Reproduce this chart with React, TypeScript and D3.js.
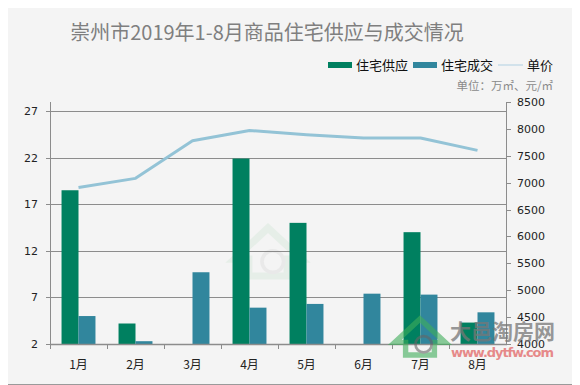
import React, { useEffect, useRef } from 'react';
import * as d3 from 'd3';

// 数据
const months = ['1月', '2月', '3月', '4月', '5月', '6月', '7月', '8月'];
const supply: (number | null)[] = [18.5, 4.2, null, 21.9, 15.0, 1.9, 14.0, 4.3];
const deal: (number | null)[] = [5.0, 2.3, 9.7, 5.9, 6.3, 7.4, 7.3, 5.4];
const price = [6910, 7080, 7780, 7970, 7890, 7830, 7830, 7600];
const leftTicks = [2, 7, 12, 17, 22, 27];
const rightTicks = [4000, 4500, 5000, 5500, 6000, 6500, 7000, 7500, 8000, 8500];

const CJK = '"Noto Sans CJK SC", "Microsoft YaHei", sans-serif';
const NUM = '"DejaVu Sans", Verdana, sans-serif';

const App = () => {
  const ref = useRef<SVGSVGElement | null>(null);

  useEffect(() => {
    const W = 580;
    const H = 385;
    const svg = d3.select(ref.current);
    svg.selectAll('*').remove();

    const left = 50;
    const right = 506;
    const top = 102;
    const bottom = 344;

    // fondo y borde
    svg.append('rect').attr('x', 0.5).attr('y', 0.5).attr('width', W - 1).attr('height', H - 1)
      .attr('fill', '#f4f4f4').attr('stroke', '#9a9a9a');

    // título
    svg.append('text').attr('x', 267).attr('y', 40).attr('text-anchor', 'middle')
      .style('font-family', CJK).style('font-size', '20px').attr('fill', '#7f7f7f')
      .text('崇州市2019年1-8月商品住宅供应与成交情况');

    const x0 = d3.scaleBand<string>().domain(months).range([left, right]);
    const x1 = d3.scaleBand<string>().domain(['s', 'd']).range([0, x0.bandwidth()]).paddingOuter(0.68);
    const yL = d3.scaleLinear().domain([2, 27.97]).range([bottom, top]);
    const yR = d3.scaleLinear().domain([4000, 8500]).range([bottom, top]);

    // rejilla
    svg.append('g').selectAll('line').data(leftTicks.filter(d => d > 2)).enter().append('line')
      .attr('x1', left).attr('x2', right).attr('y1', d => Math.round(yL(d)) + 0.5).attr('y2', d => Math.round(yL(d)) + 0.5)
      .attr('stroke', '#8c8c8c').attr('stroke-width', 1);

    // marca de agua central (tenue)
    const house = (g: any, s: number) => {
      g.append('path').attr('d', `M0,${-20 * s} L${-28 * s},${6 * s} L${-16 * s},${6 * s} L${-16 * s},${20 * s} L${16 * s},${20 * s} L${16 * s},${6 * s} L${28 * s},${6 * s} Z`)
        .attr('fill', 'none').attr('stroke', '#3fae5a').attr('stroke-width', 6 * s);
      g.append('circle').attr('cx', 4 * s).attr('cy', 8 * s).attr('r', 9 * s)
        .attr('fill', 'none').attr('stroke', '#666').attr('stroke-width', 3 * s);
    };
    const wm1 = svg.append('g').attr('transform', 'translate(268,252)').attr('opacity', 0.07);
    house(wm1, 1.2);

    // barras
    svg.append('defs').append('clipPath').attr('id', 'plotclip').append('rect')
      .attr('x', left).attr('y', top - 5).attr('width', right - left).attr('height', bottom - top + 7);
    const bars = svg.append('g').attr('clip-path', 'url(#plotclip)');
    const barRect = (vals: (number | null)[], key: string, color: string) => {
      const rows = vals.map((v, i) => ({ v, m: months[i] })).filter(d => d.v !== null) as { v: number; m: string }[];
      bars.selectAll('.b' + key).data(rows).enter().append('rect')
        .attr('class', 'b' + key)
        .attr('x', d => (x0(d.m) as number) + (x1(key) as number))
        .attr('width', x1.bandwidth())
        .attr('y', d => Math.min(yL(d.v), yL(2)))
        .attr('height', d => Math.max(1, Math.abs(yL(2) - yL(d.v))))
        .attr('fill', color);
    };
    barRect(supply, 's', '#008060');
    barRect(deal, 'd', '#31869d');

    // ejes
    const axisColor = '#8c8c8c';
    svg.append('line').attr('x1', left + 0.5).attr('x2', left + 0.5).attr('y1', top).attr('y2', bottom)
      .attr('stroke', axisColor);
    svg.append('line').attr('x1', right + 0.5).attr('x2', right + 0.5).attr('y1', top).attr('y2', bottom)
      .attr('stroke', axisColor);
    svg.append('line').attr('x1', left).attr('x2', right + 1).attr('y1', bottom + 0.5).attr('y2', bottom + 0.5)
      .attr('stroke', axisColor).attr('stroke-width', 1.5);

    // ticks izquierda
    const gl = svg.append('g');
    leftTicks.forEach(t => {
      const y = Math.round(yL(t)) + 0.5;
      gl.append('line').attr('x1', left - 4).attr('x2', left).attr('y1', y).attr('y2', y).attr('stroke', axisColor);
      gl.append('text').attr('x', 38).attr('y', y).attr('dy', '0.35em').attr('text-anchor', 'end')
        .style('font-family', NUM).style('font-size', '11px').attr('fill', '#222').text(t);
    });

    // ticks derecha
    const gr = svg.append('g');
    rightTicks.forEach(t => {
      const y = Math.round(yR(t)) + 0.5;
      gr.append('line').attr('x1', right).attr('x2', right + 5).attr('y1', y).attr('y2', y).attr('stroke', axisColor);
      gr.append('text').attr('x', 517).attr('y', y).attr('dy', '0.35em').attr('text-anchor', 'start')
        .style('font-family', NUM).style('font-size', '11px').attr('fill', '#222').text(t);
    });

    // eje x
    const gx = svg.append('g');
    months.forEach(m => {
      const xs = Math.round(x0(m) as number) + 0.5;
      gx.append('line').attr('x1', xs).attr('x2', xs).attr('y1', bottom).attr('y2', bottom + 5).attr('stroke', axisColor);
      gx.append('text').attr('x', (x0(m) as number) + x0.bandwidth() / 2).attr('y', 369).attr('text-anchor', 'middle')
        .style('font-family', CJK).style('font-size', '12px').attr('fill', '#222').text(m);
    });

    // línea de precio
    const line = d3.line<number>()
      .x((d, i) => (x0(months[i]) as number) + x0.bandwidth() / 2)
      .y(d => yR(d));
    svg.append('path').datum(price).attr('d', line).attr('fill', 'none')
      .attr('stroke', '#93c3d6').attr('stroke-width', 3).attr('stroke-linejoin', 'round');

    // leyenda
    const lg = svg.append('g');
    const legendData = [
      { label: '住宅供应', color: '#008060', x: 328, type: 'bar' },
      { label: '住宅成交', color: '#31869d', x: 413, type: 'bar' },
      { label: '单价', color: '#c7dde8', x: 498, type: 'line' },
    ];
    legendData.forEach(d => {
      if (d.type === 'bar') {
        lg.append('rect').attr('x', d.x).attr('y', 62).attr('width', 24).attr('height', 6).attr('fill', d.color);
      } else {
        lg.append('line').attr('x1', d.x).attr('x2', d.x + 25).attr('y1', 65).attr('y2', 65)
          .attr('stroke', d.color).attr('stroke-width', 1.5);
      }
      lg.append('text').attr('x', d.x + (d.type === 'bar' ? 28 : 29)).attr('y', 65).attr('dy', '0.36em')
        .style('font-family', CJK).style('font-size', '13px').attr('fill', '#111').text(d.label);
    });

    svg.append('text').attr('x', 553).attr('y', 86).attr('dy', '0.35em').attr('text-anchor', 'end')
      .style('font-family', CJK).style('font-size', '11.5px').attr('fill', '#8a8a8a')
      .text('单位：万㎡、元/㎡');

    // marca de agua (esquina inferior derecha, superpuesta como en el original)
    const wm2 = svg.append('g').attr('transform', 'translate(420,337)').attr('opacity', 0.6);
    house(wm2, 0.9);
    svg.append('text').attr('x', 450).attr('y', 339)
      .style('font-family', CJK).style('font-size', '21px').style('font-weight', 'bold')
      .attr('fill', '#777').attr('opacity', 0.75).text('大邑淘房网');
    svg.append('text').attr('x', 451).attr('y', 357)
      .style('font-family', NUM).style('font-size', '13px').style('font-weight', 'bold')
      .attr('fill', '#e05050').attr('opacity', 0.65).attr('textLength', 103).text('www.dytfw.com');
  }, []);

  return (
    <div style={{ width: 580, height: 385 }}>
      <svg ref={ref} width={580} height={385} style={{ display: 'block', marginLeft: -8, marginTop: -8 }} />
    </div>
  );
};

export default App;
